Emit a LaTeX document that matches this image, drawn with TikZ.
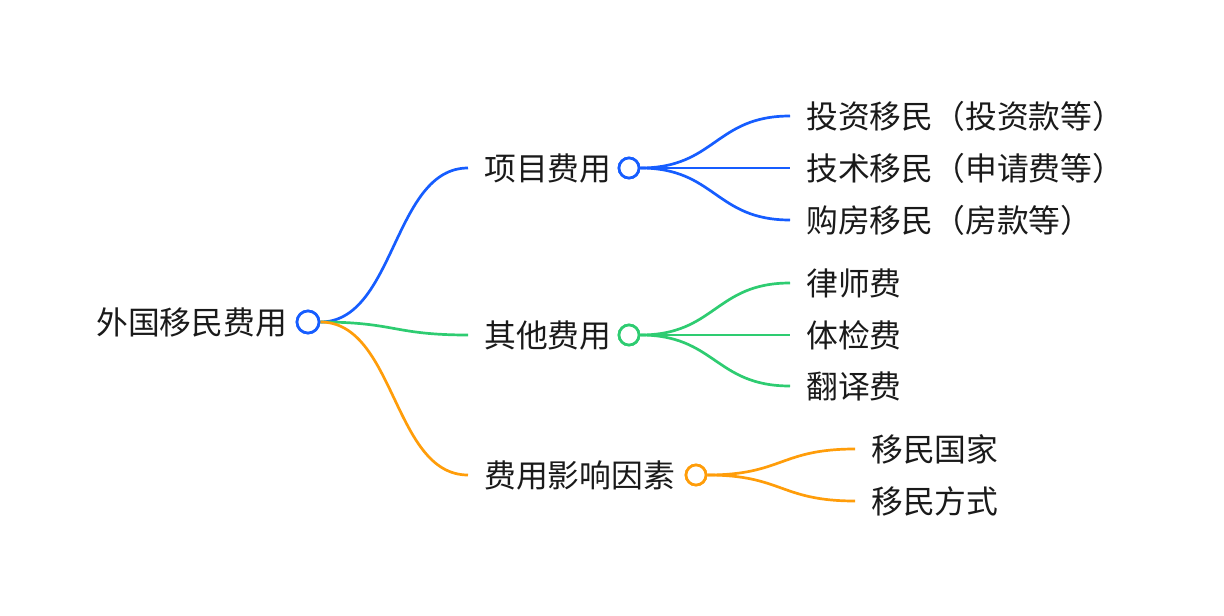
\documentclass[tikz,border=0pt]{standalone}
\usepackage{fontspec}
\setmainfont{Noto Sans CJK SC}
\definecolor{cblue}{HTML}{165DFF}
\definecolor{cgreen}{HTML}{2ECC71}
\definecolor{corange}{HTML}{FF9D0A}
\definecolor{ctext}{HTML}{1A1A1A}
\begin{document}
\begin{tikzpicture}[x=1pt,y=-1pt,
  lbl/.style={font=\fontsize{31.8}{32}\selectfont, anchor=west, inner xsep=16pt, inner ysep=0pt, text=ctext},
  dot/.style={circle, draw, line width=2.7pt, minimum size=20pt, inner sep=0pt, fill=white},
  rootdot/.style={dot, minimum size=22pt},
  link/.style={line width=2.7pt}]
\useasboundingbox (0,0) rectangle (1224,616);
% root
\node[lbl, inner xsep=0pt] (root) at (96,322) {外国移民费用};
\node[rootdot, draw=cblue] (rc) at (308,322) {};
% level 1
\node[lbl] (a) at (468,168) {项目费用};
\node[lbl] (b) at (468,335) {其他费用};
\node[lbl] (c) at (468,475) {费用影响因素};
\node[dot, draw=cblue] (ac) at (629,168) {};
\node[dot, draw=cgreen] (bc) at (629,335) {};
\node[dot, draw=corange] (cc) at (696,475) {};
% level 2
\node[lbl] (a1) at (790,116) {投资移民（投资款等）};
\node[lbl] (a2) at (790,168) {技术移民（申请费等）};
\node[lbl] (a3) at (790,220) {购房移民（房款等）};
\node[lbl] (b1) at (790,283) {律师费};
\node[lbl] (b2) at (790,335) {体检费};
\node[lbl] (b3) at (790,386) {翻译费};
\node[lbl] (c1) at (855,449) {移民国家};
\node[lbl] (c2) at (855,501) {移民方式};
% connectors
\draw[link, cblue] (rc.east) .. controls +(75,0) and +(-75,0) .. (a.west);
\draw[link, cgreen] (rc.east) .. controls +(75,0) and +(-75,0) .. (b.west);
\draw[link, corange] (rc.east) .. controls +(75,0) and +(-75,0) .. (c.west);
\draw[link, cblue] (ac.east) .. controls +(75,0) and +(-75,0) .. (a1.west);
\draw[link, cblue] (ac.east) -- (a2.west);
\draw[link, cblue] (ac.east) .. controls +(75,0) and +(-75,0) .. (a3.west);
\draw[link, cgreen] (bc.east) .. controls +(75,0) and +(-75,0) .. (b1.west);
\draw[link, cgreen] (bc.east) -- (b2.west);
\draw[link, cgreen] (bc.east) .. controls +(75,0) and +(-75,0) .. (b3.west);
\draw[link, corange] (cc.east) .. controls +(75,0) and +(-75,0) .. (c1.west);
\draw[link, corange] (cc.east) .. controls +(75,0) and +(-75,0) .. (c2.west);
% redraw dots on top
\node[rootdot, draw=cblue] at (rc) {};
\node[dot, draw=cblue] at (ac) {};
\node[dot, draw=cgreen] at (bc) {};
\node[dot, draw=corange] at (cc) {};
\end{tikzpicture}
\end{document}
